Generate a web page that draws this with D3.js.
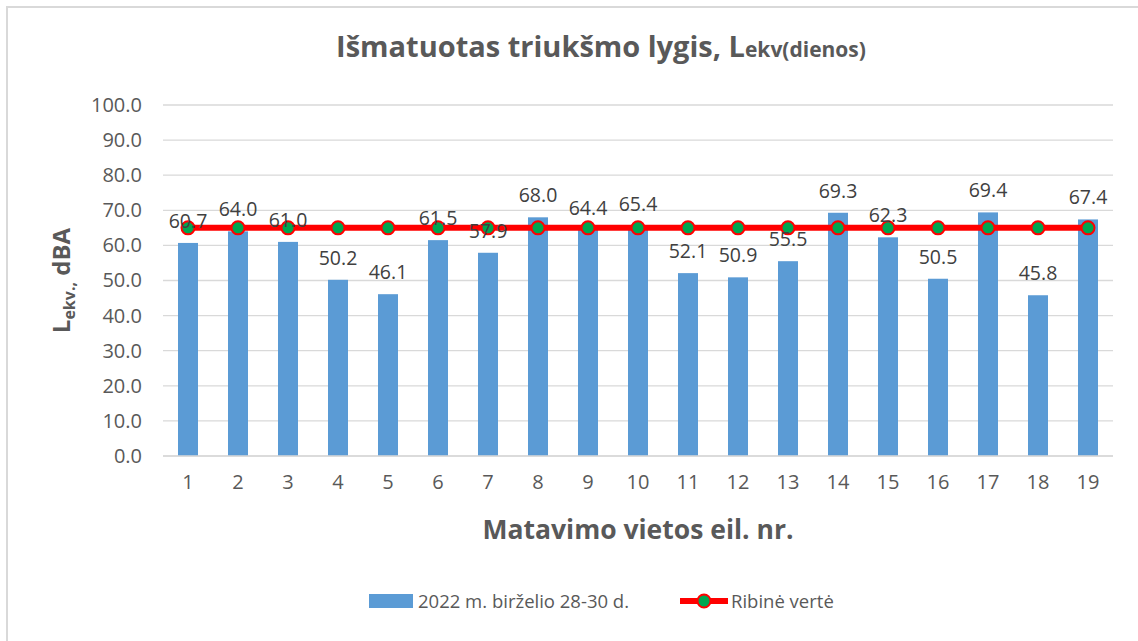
<!DOCTYPE html>
<html>
<head>
<meta charset="utf-8">
<script src="https://cdn.jsdelivr.net/npm/d3@7"></script>
<style>
  body { margin: 0; background: #fff; }
  text { font-family: "Open Sans", "Liberation Sans", sans-serif; }
</style>
</head>
<body>
<script>
// chart data
var categories = ["1","2","3","4","5","6","7","8","9","10","11","12","13","14","15","16","17","18","19"];
var measured = [60.7, 64.0, 61.0, 50.2, 46.1, 61.5, 57.9, 68.0, 64.4, 65.4, 52.1, 50.9, 55.5, 69.3, 62.3, 50.5, 69.4, 45.8, 67.4];
var limitValues = [65,65,65,65,65,65,65,65,65,65,65,65,65,65,65,65,65,65,65];
var yTicks = [0,10,20,30,40,50,60,70,80,90,100];
var barSeriesName = "2022 m. birželio 28-30 d.";
var lineSeriesName = "Ribinė vertė";

var svgWidth = 1138, svgHeight = 641;
var margin = {top: 105, right: 25, bottom: 185, left: 163};
var chartWidth = 1113 - margin.left;
var chartHeight = 456 - margin.top;

var svg = d3.select("body").append("svg")
  .attr("width", svgWidth)
  .attr("height", svgHeight);

// outer border (only top/left visible in reference)
svg.append("path")
  .attr("d", "M7,641 L7,7 L1138,7")
  .attr("fill", "none")
  .attr("stroke", "#d9d9d9")
  .attr("stroke-width", 2);

var chartGroup = svg.append("g")
  .attr("transform", `translate(${margin.left}, ${margin.top})`);

var xScale = d3.scaleBand()
  .domain(categories)
  .range([0, chartWidth])
  .paddingInner(0.6)
  .paddingOuter(0.3);

var yScale = d3.scaleLinear()
  .domain([0, 100])
  .range([chartHeight, 0]);

// gridlines
chartGroup.append("g")
  .selectAll("line")
  .data(yTicks)
  .enter()
  .append("line")
  .attr("x1", 0)
  .attr("x2", chartWidth)
  .attr("y1", d => yScale(d))
  .attr("y2", d => yScale(d))
  .attr("stroke", "#d9d9d9")
  .attr("stroke-width", 1.3);

// y axis
var leftAxis = d3.axisLeft(yScale).tickValues(yTicks).tickFormat(d3.format(".1f")).tickSize(0).tickPadding(21);
var yAxis = chartGroup.append("g").call(leftAxis);
yAxis.select(".domain").remove();
yAxis.selectAll("text")
  .attr("fill", "#595959")
  .style("font-size", "20px");

// x axis
var bottomAxis = d3.axisBottom(xScale).tickSize(0).tickPadding(19);
var xAxis = chartGroup.append("g")
  .attr("transform", `translate(0, ${chartHeight})`)
  .call(bottomAxis);
xAxis.select(".domain").remove();
xAxis.selectAll("text")
  .attr("fill", "#595959")
  .style("font-size", "20px");

// bars
chartGroup.selectAll("rect.bar")
  .data(measured)
  .enter()
  .append("rect")
  .attr("class", "bar")
  .attr("x", (d, i) => xScale(categories[i]))
  .attr("y", d => yScale(d))
  .attr("width", xScale.bandwidth())
  .attr("height", d => chartHeight - yScale(d))
  .attr("fill", "#5b9bd5");

// baseline on top of bars
chartGroup.append("line")
  .attr("x1", 0).attr("x2", chartWidth)
  .attr("y1", chartHeight).attr("y2", chartHeight)
  .attr("stroke", "#d9d9d9").attr("stroke-width", 1.3);

// limit line
var xc = (d, i) => xScale(categories[i]) + xScale.bandwidth() / 2;
var line = d3.line()
  .x((d, i) => xc(d, i))
  .y(d => yScale(d));

chartGroup.append("path")
  .datum(limitValues)
  .attr("d", line)
  .attr("fill", "none")
  .attr("stroke", "#ff0000")
  .attr("stroke-width", 6);

chartGroup.selectAll("circle.marker")
  .data(limitValues)
  .enter()
  .append("circle")
  .attr("class", "marker")
  .attr("cx", (d, i) => xc(d, i))
  .attr("cy", d => yScale(d))
  .attr("r", 6.5)
  .attr("fill", "#00a651")
  .attr("stroke", "#ff0000")
  .attr("stroke-width", 2);

// data labels
chartGroup.selectAll("text.label")
  .data(measured)
  .enter()
  .append("text")
  .attr("class", "label")
  .attr("x", (d, i) => xc(d, i))
  .attr("y", d => yScale(d) - 15)
  .attr("text-anchor", "middle")
  .attr("fill", "#404040")
  .style("font-size", "19.5px")
  .text(d => d3.format(".1f")(d));

// title
var title = svg.append("text")
  .attr("x", 601)
  .attr("y", 57)
  .attr("text-anchor", "middle")
  .attr("fill", "#595959")
  .style("font-weight", "bold");
title.append("tspan").style("font-size", "29px").text("Išmatuotas triukšmo lygis, L");
title.append("tspan").style("font-size", "21px").text("ekv(dienos)");

// y axis title
var yTitle = svg.append("text")
  .attr("transform", `translate(70, ${margin.top + chartHeight / 2}) rotate(-90)`)
  .attr("text-anchor", "middle")
  .attr("fill", "#595959")
  .style("font-weight", "bold");
yTitle.append("tspan").style("font-size", "24px").text("L");
yTitle.append("tspan").style("font-size", "16px").attr("dy", 5).text("ekv.,");
yTitle.append("tspan").style("font-size", "24px").attr("dy", -5).text(" dBA");

// x axis title
svg.append("text")
  .attr("x", 638)
  .attr("y", 539)
  .attr("text-anchor", "middle")
  .attr("fill", "#595959")
  .style("font-weight", "bold")
  .style("font-size", "26.5px")
  .text("Matavimo vietos eil. nr.");

// legend
var legend = svg.append("g").attr("transform", "translate(0, 601)");
legend.append("rect")
  .attr("x", 369).attr("y", -7)
  .attr("width", 44).attr("height", 14)
  .attr("fill", "#5b9bd5");
legend.append("text")
  .attr("x", 418).attr("y", 7)
  .attr("fill", "#595959")
  .style("font-size", "18.5px")
  .text(barSeriesName);
legend.append("line")
  .attr("x1", 680).attr("x2", 728)
  .attr("y1", 0).attr("y2", 0)
  .attr("stroke", "#ff0000").attr("stroke-width", 6);
legend.append("circle")
  .attr("cx", 704).attr("cy", 0).attr("r", 6.5)
  .attr("fill", "#00a651").attr("stroke", "#ff0000").attr("stroke-width", 2);
legend.append("text")
  .attr("x", 731).attr("y", 7)
  .attr("fill", "#595959")
  .style("font-size", "18.5px")
  .text(lineSeriesName);
</script>
</body>
</html>
